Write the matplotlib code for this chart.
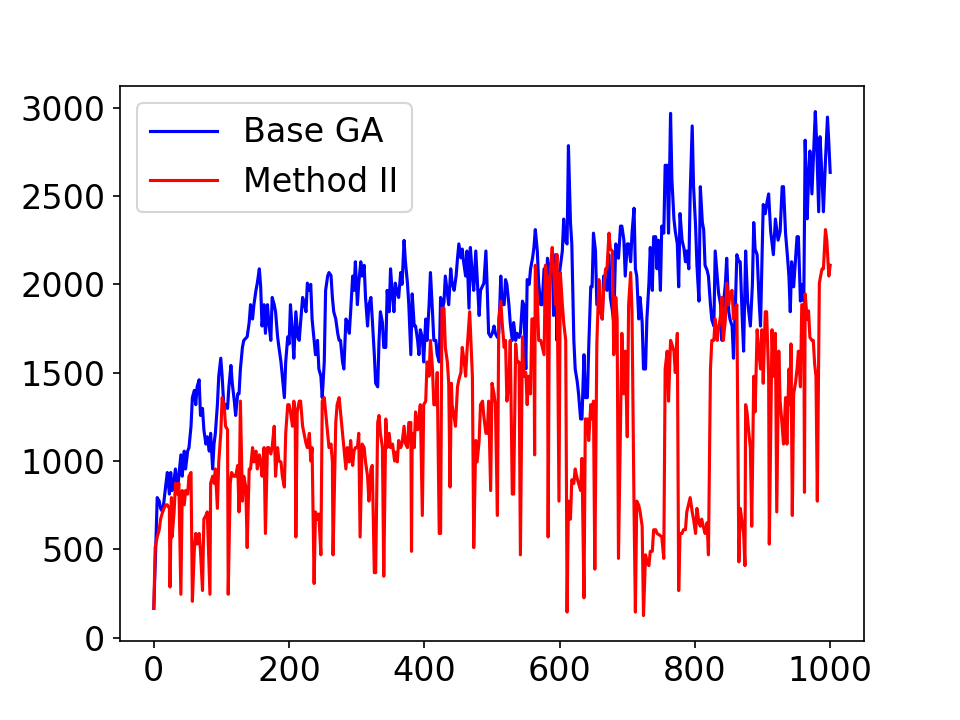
import matplotlib
matplotlib.use("Agg")
import matplotlib.pyplot as plt

plt.rcParams['font.size'] = 16

# values (generation, fitness)
base_gen = [0, 3, 5, 8, 10, 13, 15, 18, 20, 23, 25, 27, 30, 32, 35, 37, 40, 42, 45, 47,
            50, 52, 55, 57, 60, 62, 64, 67, 69, 72, 74, 77, 79, 82, 84, 87, 89, 91, 94, 96,
            99, 101, 104, 106, 109, 111, 114, 116, 119, 121, 124, 126, 128, 131, 133, 138, 141, 143, 146, 148,
            151, 153, 156, 158, 160, 163, 165, 168, 170, 173, 175, 178, 180, 183, 185, 188, 190, 193, 195, 198,
            200, 202, 205, 207, 210, 213, 215, 217, 220, 222, 225, 227, 230, 232, 234, 237, 239, 242, 244, 247,
            249, 252, 254, 257, 259, 262, 264, 266, 269, 272, 274, 276, 279, 281, 284, 286, 289, 291, 294, 296,
            298, 301, 303, 306, 308, 311, 313, 316, 318, 321, 323, 326, 328, 331, 333, 335, 338, 340, 343, 345,
            348, 350, 353, 355, 357, 360, 362, 365, 367, 370, 372, 375, 377, 380, 382, 385, 387, 390, 392, 394,
            397, 399, 402, 404, 407, 409, 412, 414, 417, 419, 422, 424, 427, 429, 431, 434, 436, 439, 441, 444,
            447, 449, 451, 454, 456, 458, 461, 463, 466, 468, 471, 473, 476, 478, 481, 483, 486, 488, 491, 493,
            495, 498, 501, 503, 505, 508, 510, 513, 515, 518, 520, 522, 525, 527, 530, 532, 535, 537, 540, 542,
            545, 547, 550, 552, 555, 557, 560, 562, 564, 567, 569, 572, 574, 577, 579, 582, 584, 586, 589, 591,
            594, 596, 599, 601, 604, 606, 608, 611, 613, 616, 618, 621, 623, 626, 628, 631, 633, 636, 638, 641,
            643, 646, 648, 650, 653, 655, 658, 660, 663, 665, 668, 670, 673, 675, 678, 680, 683, 685, 687, 690,
            692, 695, 697, 700, 702, 705, 707, 710, 712, 714, 717, 719, 722, 724, 727, 729, 732, 734, 737, 739,
            742, 744, 746, 749, 751, 754, 756, 759, 761, 764, 766, 769, 771, 774, 776, 778, 781, 784, 786, 788,
            791, 793, 796, 798, 801, 803, 806, 808, 811, 813, 815, 818, 820, 823, 825, 828, 830, 833, 835, 838,
            840, 842, 845, 847, 850, 852, 855, 857, 860, 862, 865, 867, 870, 872, 875, 878, 882, 885, 887, 889,
            892, 895, 897, 901, 904, 906, 909, 912, 916, 919, 923, 926, 929, 931, 934, 937, 939, 941, 943, 946,
            948, 951, 953, 956, 958, 961, 963, 966, 968, 970, 973, 975, 978, 980, 983, 985, 988, 990, 993, 996,
            998, 1000]
base_fit = [166, 530, 793, 773, 732, 712, 773, 874, 935, 813, 935, 833, 894, 955, 833, 914, 1035, 914, 1056, 955,
            1056, 1076, 1197, 1359, 1400, 1319, 1420, 1460, 1258, 1298, 1177, 1096, 1137, 1056, 1157, 955, 1096, 1157, 1319, 1480,
            1582, 1480, 1278, 1319, 1298, 1420, 1541, 1440, 1339, 1258, 1380, 1380, 1521, 1643, 1683, 1703, 1784, 1885, 1804, 1885,
            1966, 2007, 2088, 1986, 1764, 1885, 1723, 1885, 1784, 1683, 1926, 1885, 1845, 1703, 1643, 1561, 1480, 1359, 1561, 1703,
            1663, 1885, 1723, 1582, 1845, 1700, 1683, 1784, 1926, 1900, 1845, 2007, 1966, 2000, 1804, 1683, 1602, 1683, 1521, 1480,
            1359, 1561, 1966, 2047, 2067, 2050, 1926, 1845, 1804, 1720, 1683, 1683, 1561, 1521, 1804, 1790, 1723, 1845, 2047, 1966,
            2128, 1885, 2007, 2128, 2047, 2108, 1926, 1764, 1885, 1926, 1804, 1602, 1440, 1420, 1683, 1845, 1784, 1643, 1643, 1966,
            1845, 2088, 1926, 1845, 2007, 1950, 1926, 2067, 2000, 2249, 2128, 2007, 1885, 1602, 1946, 1764, 1764, 1683, 1602, 1743,
            1700, 1561, 1804, 1683, 1885, 2067, 1845, 1683, 1683, 1602, 1561, 1926, 1865, 1900, 2047, 1950, 1885, 2088, 2007, 1966,
            2050, 2148, 2229, 2150, 2200, 2128, 2047, 2189, 1865, 2209, 2050, 1966, 2189, 2047, 1824, 1966, 1990, 2007, 2189, 1966,
            1723, 1703, 1730, 1764, 1723, 1700, 1723, 2047, 1885, 1885, 2027, 2000, 1885, 1780, 1683, 1784, 1683, 1723, 1700, 1723,
            1905, 1885, 1521, 2027, 2000, 2088, 2150, 2209, 2310, 2189, 2007, 1885, 1885, 2088, 1845, 2148, 2100, 2047, 2168, 1824,
            2168, 1683, 2047, 2100, 2189, 2370, 2250, 2229, 2785, 2350, 2229, 1683, 1521, 1450, 1380, 1238, 1238, 1602, 1359, 1359,
            1643, 1986, 1986, 2290, 2189, 1885, 1885, 1850, 1804, 2047, 2000, 1966, 2168, 1926, 1850, 1784, 2229, 2190, 2148, 2330,
            2330, 2250, 2047, 2229, 2229, 2128, 2290, 2431, 2088, 2047, 1804, 1926, 1784, 1521, 1521, 1804, 2007, 2209, 1966, 2270,
            2270, 2088, 2250, 1966, 2330, 2290, 2674, 2674, 2290, 2968, 2593, 2370, 2300, 2229, 1986, 2401, 2250, 2200, 2128, 2189,
            2088, 2512, 2897, 2553, 2330, 2108, 1905, 2553, 2350, 2310, 2108, 2080, 2047, 1885, 1800, 1764, 2189, 2047, 1950, 1885,
            1683, 1885, 2000, 2148, 1845, 1800, 1764, 1582, 1900, 2168, 2128, 2128, 1804, 1622, 2189, 1900, 1764, 2000, 2350, 2200,
            2168, 1900, 1764, 2452, 2400, 2452, 2512, 2300, 2168, 2370, 2250, 2300, 2553, 2553, 2290, 2150, 2047, 1845, 2128, 1986,
            2100, 2270, 2270, 1905, 2000, 1905, 2816, 2371, 2600, 2755, 2512, 2700, 2978, 2800, 2411, 2836, 2600, 2411, 2700, 2947,
            2800, 2634]

m2_gen = [0, 2, 5, 8, 10, 13, 15, 18, 20, 23, 24, 26, 27, 30, 32, 35, 37, 40, 42, 45,
          47, 50, 52, 55, 57, 60, 62, 64, 67, 69, 72, 74, 77, 79, 83, 84, 87, 89, 91, 94,
          96, 99, 101, 104, 106, 109, 110, 113, 115, 118, 121, 124, 126, 128, 131, 133, 136, 138, 141, 143,
          146, 148, 151, 153, 156, 158, 160, 163, 165, 168, 170, 173, 175, 178, 180, 183, 185, 188, 190, 193,
          195, 198, 200, 202, 205, 207, 209, 210, 212, 215, 217, 220, 222, 225, 227, 230, 232, 234, 237, 239,
          242, 244, 247, 249, 252, 254, 257, 259, 262, 264, 265, 269, 271, 274, 276, 279, 281, 284, 286, 289,
          291, 294, 296, 298, 301, 303, 305, 308, 311, 313, 316, 318, 321, 323, 326, 328, 331, 333, 335, 338,
          340, 343, 345, 348, 350, 353, 356, 358, 360, 362, 365, 367, 370, 372, 375, 377, 380, 381, 382, 385,
          387, 390, 392, 394, 397, 399, 402, 404, 407, 409, 412, 414, 417, 419, 422, 424, 426, 429, 431, 434,
          436, 438, 440, 441, 444, 446, 449, 451, 454, 456, 459, 461, 463, 467, 471, 473, 476, 478, 481, 483,
          486, 488, 491, 493, 495, 498, 500, 503, 505, 508, 510, 513, 515, 518, 520, 522, 525, 527, 530, 532,
          535, 537, 540, 542, 545, 547, 550, 552, 554, 557, 559, 562, 563, 564, 567, 569, 572, 574, 577, 579,
          582, 583, 585, 589, 591, 594, 596, 599, 601, 604, 606, 609, 611, 613, 616, 618, 621, 623, 626, 628,
          631, 633, 636, 638, 641, 643, 646, 648, 650, 652, 655, 658, 660, 663, 665, 668, 670, 673, 675, 678,
          680, 683, 685, 687, 692, 695, 697, 700, 702, 705, 707, 710, 712, 714, 717, 719, 722, 724, 727, 730,
          732, 734, 737, 739, 742, 744, 748, 751, 754, 756, 759, 761, 764, 767, 769, 771, 774, 776, 778, 781,
          783, 786, 788, 791, 793, 796, 798, 801, 803, 806, 808, 810, 813, 815, 818, 820, 823, 825, 828, 830,
          833, 835, 838, 840, 842, 845, 847, 850, 852, 855, 857, 860, 862, 865, 867, 870, 872, 874, 875, 877,
          880, 882, 884, 887, 889, 892, 895, 897, 899, 901, 904, 906, 909, 910, 914, 916, 919, 921, 924, 926,
          929, 931, 934, 936, 939, 941, 942, 944, 946, 949, 951, 953, 956, 958, 961, 962, 963, 966, 968, 970,
          973, 975, 977, 979, 981, 984, 986, 988, 990, 993, 995, 998, 1000]
m2_fit = [166, 510, 570, 611, 671, 712, 732, 752, 752, 732, 287, 793, 570, 712, 874, 813, 874, 246, 833, 752,
          833, 813, 914, 935, 206, 510, 590, 530, 590, 489, 267, 671, 692, 712, 246, 874, 914, 874, 955, 732,
          995, 1157, 1359, 1319, 1197, 1177, 246, 874, 935, 914, 914, 975, 712, 1339, 773, 914, 853, 510, 955, 955,
          1076, 995, 1056, 955, 1035, 995, 914, 1076, 590, 1076, 1076, 1040, 1080, 1197, 914, 1076, 1000, 995, 914, 853,
          1157, 1319, 1319, 1278, 1197, 1339, 1278, 570, 1278, 1339, 1339, 1197, 1157, 1100, 1076, 1157, 1000, 1076, 307, 712,
          671, 700, 469, 1339, 1359, 1278, 1157, 1076, 1096, 995, 469, 1218, 1319, 1359, 1278, 1157, 1076, 955, 1076, 995,
          1116, 975, 1056, 1076, 1076, 1157, 570, 1096, 1076, 995, 914, 773, 955, 975, 368, 368, 1218, 1258, 1157, 1076,
          348, 1238, 1076, 1157, 1076, 1096, 1000, 1050, 995, 1116, 1076, 1100, 1197, 1100, 1076, 1218, 1218, 489, 1157, 1076,
          1278, 1177, 1238, 1319, 692, 1319, 1339, 1561, 1480, 1683, 1521, 1319, 1319, 1501, 590, 590, 1865, 1865, 1643, 1561,
          1440, 853, 1440, 1319, 1250, 1197, 1420, 1460, 1501, 1643, 1560, 1480, 1622, 1845, 1480, 510, 1116, 995, 1116, 1319,
          1339, 1250, 1157, 1157, 1339, 833, 1440, 1380, 1319, 692, 1804, 1905, 1784, 1643, 1683, 1339, 1440, 1683, 813, 813,
          1663, 1561, 1561, 469, 1703, 1480, 1501, 1319, 1480, 1380, 1804, 1804, 1035, 2108, 1926, 1683, 1683, 1650, 1602, 2108,
          2007, 570, 2007, 2209, 2088, 1885, 2169, 773, 2067, 1885, 1784, 1683, 145, 773, 671, 894, 873, 955, 900, 873,
          833, 1015, 226, 1238, 1238, 1116, 1319, 1238, 1339, 388, 1663, 2027, 1885, 1804, 1966, 2088, 2088, 2290, 2200, 2189,
          1602, 1926, 1804, 449, 1723, 1380, 1622, 1137, 1885, 2067, 1845, 732, 145, 773, 750, 712, 631, 125, 469, 420,
          408, 489, 489, 611, 611, 590, 580, 570, 449, 1521, 1622, 1339, 1683, 1650, 1622, 1501, 1723, 267, 590, 590,
          611, 611, 712, 760, 793, 712, 671, 590, 732, 650, 631, 671, 620, 590, 651, 469, 1521, 1683, 1683, 1804,
          1683, 1750, 1824, 1926, 1683, 1800, 2007, 1885, 1950, 1966, 1804, 1850, 1885, 429, 732, 650, 590, 408, 1319, 1278,
          1150, 1076, 631, 1480, 1278, 1743, 1600, 1521, 1743, 1440, 1845, 1845, 1480, 530, 1743, 1480, 1723, 712, 1622, 1339,
          1200, 1096, 1359, 1096, 1521, 1319, 1663, 692, 1380, 1450, 1521, 1622, 1420, 1885, 1885, 823, 1946, 1800, 1850, 1700,
          1683, 1683, 1550, 1480, 773, 2007, 2050, 2088, 2088, 2310, 2250, 2047, 2108]

fig, ax = plt.subplots(figsize=(6.4, 4.8), dpi=150)
ax.plot(base_gen, base_fit, color='blue', label='Base GA')
ax.plot(m2_gen, m2_fit, color='red', label='Method II')
ax.set_yticks([0, 500, 1000, 1500, 2000, 2500, 3000])
ax.legend(loc='upper left')

plt.savefig('out.png')
